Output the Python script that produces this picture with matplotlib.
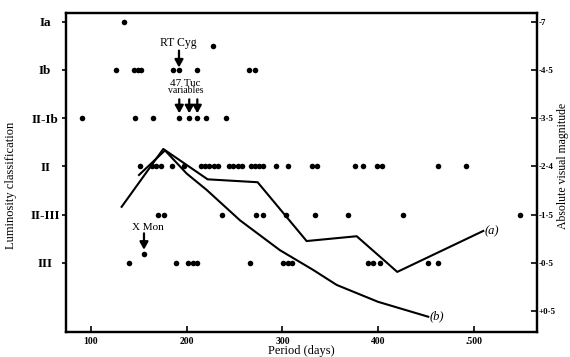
import matplotlib
matplotlib.use("Agg")
import matplotlib.pyplot as plt

plt.rcParams["font.family"] = ["Liberation Serif", "DejaVu Serif"]

# luminosity classes (level 1..6) and magnitude scale on the right
class_labels = ["III", "II-III", "II", "II-Ib", "Ib", "Ia"]
class_levels = [1, 2, 3, 4, 5, 6]
mag_labels = ["+0·5", "-0·5", "-1·5", "-2·4", "-3·5", "-4·5", "-7"]
mag_levels = [0, 1, 2, 3, 4, 5, 6]

# periods (days) of the stars in each class
per_ia = [135]
per_ib = [126.5, 145, 149, 153, 186, 192, 211, 265, 271]
per_ii_ib = [90.6, 146, 165, 192.4, 202.8, 211.2, 220, 241]
per_ii = [151.4, 163.6, 167.8, 173, 184.5, 197.6, 214.7, 219.2, 223.7, 228.6,
          233.1, 244.2, 248.7, 253.3, 257.8, 266.8, 271.3, 275.8, 280, 293.2,
          305.4, 331, 335.7, 375.6, 384.3, 398.9, 403.5, 462.5, 491.5]
per_ii_iii = [169.9, 176.7, 237, 272.4, 280, 303.7, 333.9, 368.6, 426, 548]
per_iii = [140.2, 189.3, 201.8, 206.4, 211.2, 266.1, 300.8, 305.4, 310.2,
           389.5, 394.7, 401.7, 452, 461.8]
odd_per = [228, 155.6]
odd_lev = [5.5, 1.19]

# curves (a) and (b)
curve_a_per = [132.3, 175.7, 222, 274.1, 325.2, 377.4, 419.7, 509.4]
curve_a_lev = [2.16, 3.36, 2.73, 2.67, 1.45, 1.55, 0.81, 1.66]
curve_b_per = [150.4, 177.5, 200.1, 221, 255.7, 297.4, 332.1, 356.5, 399.6, 452]
curve_b_lev = [2.82, 3.33, 2.85, 2.51, 1.88, 1.26, 0.85, 0.54, 0.19, -0.12]

fig = plt.figure(figsize=(5.7, 3.57), dpi=100)
ax = fig.add_axes([0.1158, 0.0709, 0.8263, 0.8927])

rows = [per_iii, per_ii_iii, per_ii, per_ii_ib, per_ib, per_ia]
for lev, pers in zip(class_levels, rows):
    ax.plot(pers, [lev] * len(pers), "o", color="black", markersize=4,
            markeredgewidth=0)
ax.plot(odd_per, odd_lev, "o", color="black", markersize=4, markeredgewidth=0)

ax.plot(curve_a_per, curve_a_lev, color="black", lw=1.5)
ax.plot(curve_b_per, curve_b_lev, color="black", lw=1.5)
ax.text(curve_a_per[-1] + 1, curve_a_lev[-1], "(a)", fontsize=9,
        style="italic", va="center", ha="left")
ax.text(curve_b_per[-1] + 1, curve_b_lev[-1], "(b)", fontsize=9,
        style="italic", va="center", ha="left")

arrow = dict(arrowstyle="-|>,head_width=0.25,head_length=0.45", lw=1.6,
             color="black", shrinkA=0, shrinkB=0)
ax.annotate("", xy=(192.1, 5.05), xytext=(192.1, 5.40), arrowprops=arrow)
for p in [192.4, 202.8, 211.2]:
    ax.annotate("", xy=(p, 4.10), xytext=(p, 4.39), arrowprops=arrow)
ax.annotate("", xy=(155.6, 1.27), xytext=(155.6, 1.61), arrowprops=arrow)

ax.text(191, 5.43, "RT Cyg", fontsize=8.5, ha="center", va="bottom")
ax.text(199, 4.63, "47 Tuc", fontsize=8, ha="center", va="bottom")
ax.text(199, 4.47, "variables", fontsize=7, ha="center", va="bottom")
ax.text(160, 1.63, "X Mon", fontsize=8, ha="center", va="bottom")

ax.set_xlim(74.3, 565.4)
ax.set_ylim(-0.43, 6.18)
ax.set_xticks([100, 200, 300, 400, 500])
ax.set_xticklabels(["100", "200", "300", "400", ".500"], fontsize=7,
                   fontweight="bold")
ax.tick_params(axis="x", direction="in", length=4, width=1.2, pad=4)
ax.set_xlabel("Period (days)", fontsize=9, labelpad=-1)

ax.set_yticks(class_levels)
ax.set_yticklabels(class_labels, fontsize=9.5, fontweight="bold", ha="center")
ax.tick_params(axis="y", direction="out", length=3, width=1.2, pad=12)
ax.set_ylabel("Luminosity classification", fontsize=9)
ax.yaxis.set_label_coords(-0.104, 0.46)

ax2 = ax.twinx()
ax2.set_ylim(ax.get_ylim())
ax2.set_yticks(mag_levels)
ax2.set_yticklabels(mag_labels, fontsize=6.5, fontweight="bold")
ax2.tick_params(axis="y", direction="in", length=4, width=1.2, pad=1)
ax2.set_ylabel("Absolute visual magnitude", fontsize=8.5, rotation=90)
ax2.yaxis.set_label_coords(1.042, 0.52)

for a in (ax, ax2):
    for s in a.spines.values():
        s.set_linewidth(1.6)

fig.savefig("out.png", dpi=100)
